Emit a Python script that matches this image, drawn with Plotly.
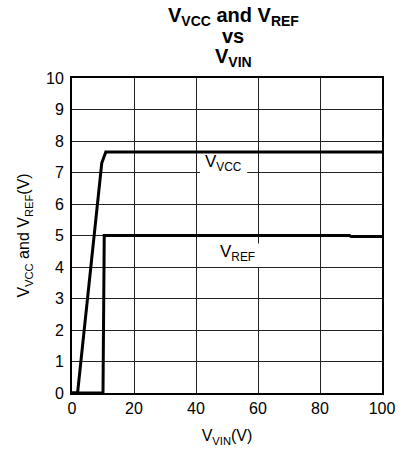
import plotly.graph_objects as go

vin_vcc = [0, 1.8, 9.6, 10.9, 100]
vcc = [0, 0, 7.3, 7.65, 7.65]
vin_ref = [0, 10.0, 10.4, 89.5, 90.0, 100]
vref = [0, 0, 5.0, 5.0, 4.97, 4.97]
x_ticks = [0, 20, 40, 60, 80, 100]
y_ticks = list(range(0, 11))
title_lines = ["V<sub>VCC</sub> and V<sub>REF</sub>", "vs", "V<sub>VIN</sub>"]

FONT = "Liberation Sans, Arial, sans-serif"
W, H = 403, 452
L, R, T, B = 72, 21, 78, 59
PH = H - T - B


def py(pix):
    # pixel row -> paper y
    return (H - B - pix) / PH


def px(pix):
    return (pix - L) / (W - L - R)


fig = go.Figure()
fig.add_trace(go.Scatter(x=vin_vcc, y=vcc, mode="lines",
                         line=dict(color="black", width=3), showlegend=False))
fig.add_trace(go.Scatter(x=vin_ref, y=vref, mode="lines",
                         line=dict(color="black", width=3), showlegend=False))

# white patches that break the grid behind the curve labels
fig.add_shape(type="rect", x0=41.3, x1=56.5, y0=6.85, y1=7.55, layer="between",
              fillcolor="white", line=dict(width=0))
fig.add_shape(type="rect", x0=46.5, x1=60.6, y0=4.0, y1=4.75, layer="between",
              fillcolor="white", line=dict(width=0))

fig.add_annotation(x=49, y=7.3, text="V<sub>VCC</sub>", showarrow=False,
                   font=dict(size=17, color="black", family=FONT))
fig.add_annotation(x=53.5, y=4.45, text="V<sub>REF</sub>", showarrow=False,
                   font=dict(size=17, color="black", family=FONT))

# title lines
for txt, cy in zip(title_lines, [16, 36, 57]):
    fig.add_annotation(xref="paper", yref="paper", x=px(233), y=py(cy),
                       xanchor="center", yanchor="middle", text="<b>" + txt + "</b>",
                       showarrow=False,
                       font=dict(size=20, color="black", family=FONT))

fig.update_layout(
    width=W, height=H,
    margin=dict(l=L, r=R, t=T, b=B),
    paper_bgcolor="white", plot_bgcolor="white",
    font=dict(family=FONT, color="black", size=16),
    xaxis=dict(range=[0, 100], tickvals=x_ticks, showgrid=True, gridcolor="#222",
               gridwidth=1, showline=True, linecolor="black", linewidth=2, mirror=True,
               zeroline=False, ticks="", ticklen=0, automargin=False,
               title=dict(text="V<sub>VIN</sub>(V)", standoff=14,
                          font=dict(size=16, family=FONT))),
    yaxis=dict(range=[0, 10], tickvals=y_ticks, showgrid=True, gridcolor="#222",
               gridwidth=1, showline=True, linecolor="black", linewidth=2, mirror=True,
               zeroline=False, ticks="", ticklen=0, automargin=False,
               ticklabelstandoff=3,
               title=dict(text="V<sub>VCC</sub> and V<sub>REF</sub>(V)", standoff=12,
                          font=dict(size=16, family=FONT))),
)

fig.write_html("out.html", config={"displayModeBar": False},
               post_script="document.body.style.margin='0';")
